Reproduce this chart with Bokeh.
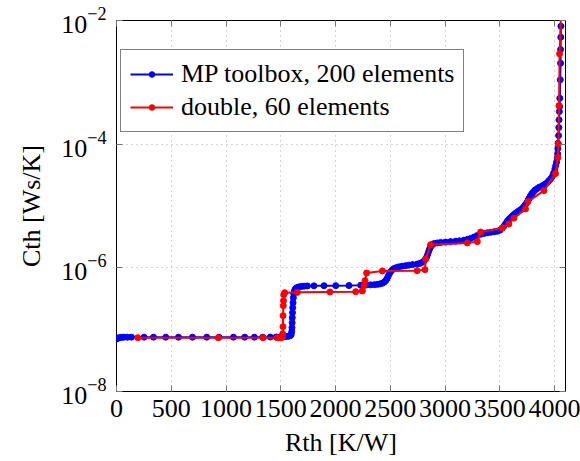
from bokeh.plotting import figure
from bokeh.models import (Range1d, FixedTicker, Legend, LegendItem, LinearAxis, LogAxis,
                          CustomJSTickFormatter)
from bokeh.embed import file_html
from bokeh.resources import INLINE

FONT = "'Liberation Serif', 'Times New Roman', serif"
FS = "26px"

# Tick positions
x_ticks = [0, 500, 1000, 1500, 2000, 2500, 3000, 3500, 4000]
y_ticks = [1e-8, 1e-6, 1e-4, 1e-2]

# MP toolbox, 200 elements (Rth [K/W], Cth [Ws/K])
mp_rth = [0, 12, 26, 46, 67, 100, 137, 252, 338, 450, 566, 694, 824, 936, 1068, 1171, 1259,
          1335, 1404, 1458, 1500, 1531, 1554, 1572, 1586, 1595, 1600, 1602, 1604, 1605, 1607,
          1609, 1612, 1615, 1618, 1625, 1634, 1646, 1664, 1687, 1712, 1743, 1803, 1895, 2002,
          2123, 2230, 2284, 2321, 2357, 2385, 2408, 2428, 2444, 2458, 2470, 2481, 2492, 2503,
          2517, 2534, 2554, 2579, 2610, 2640, 2670, 2704, 2747, 2773, 2793, 2809, 2823, 2834,
          2844, 2853, 2862, 2873, 2884, 2899, 2930, 2960, 3005, 3051, 3097, 3133, 3172, 3206,
          3234, 3264, 3293, 3325, 3357, 3386, 3416, 3446, 3477, 3503, 3523, 3538, 3553, 3569,
          3585, 3599, 3614, 3629, 3644, 3660, 3674, 3690, 3705, 3717, 3731, 3745, 3757, 3766,
          3777, 3788, 3797, 3809, 3822, 3842, 3863, 3888, 3904, 3918, 3934, 3948, 3964, 3979,
          3991, 4003, 4011, 4018, 4024, 4028, 4030, 4032, 4037, 4039, 4041, 4044, 4046, 4048,
          4052, 4055, 4055, 4057, 4058]
mp_cth = [7.07e-8, 7.29e-8, 7.42e-8, 7.51e-8, 7.56e-8, 7.56e-8, 7.56e-8, 7.56e-8, 7.56e-8,
          7.56e-8, 7.56e-8, 7.56e-8, 7.56e-8, 7.56e-8, 7.56e-8, 7.56e-8, 7.56e-8, 7.56e-8,
          7.59e-8, 7.62e-8, 7.65e-8, 7.70e-8, 7.76e-8, 7.85e-8, 8.00e-8, 8.30e-8, 9.28e-8,
          1.077e-7, 1.298e-7, 1.564e-7, 1.884e-7, 2.27e-7, 2.735e-7, 3.295e-7, 3.824e-7,
          4.277e-7, 4.607e-7, 4.783e-7, 4.909e-7, 5.00e-7, 5.057e-7, 5.095e-7, 5.114e-7,
          5.133e-7, 5.152e-7, 5.171e-7, 5.23e-7, 5.288e-7, 5.308e-7, 5.35e-7, 5.41e-7, 5.51e-7,
          5.655e-7, 5.87e-7, 6.21e-7, 6.69e-7, 7.34e-7, 8.06e-7, 8.68e-7, 9.25e-7, 9.71e-7,
          1.007e-6, 1.038e-6, 1.065e-6, 1.085e-6, 1.106e-6, 1.127e-6, 1.152e-6, 1.182e-6,
          1.227e-6, 1.293e-6, 1.393e-6, 1.518e-6, 1.697e-6, 1.898e-6, 2.084e-6, 2.244e-6,
          2.373e-6, 2.464e-6, 2.529e-6, 2.576e-6, 2.615e-6, 2.654e-6, 2.694e-6, 2.735e-6,
          2.797e-6, 2.893e-6, 2.991e-6, 3.139e-6, 3.319e-6, 3.484e-6, 3.602e-6, 3.684e-6,
          3.753e-6, 3.824e-6, 3.896e-6, 4.074e-6, 4.389e-6, 4.73e-6, 5.19e-6, 5.70e-6,
          6.14e-6, 6.49e-6, 6.87e-6, 7.26e-6, 7.62e-6, 7.97e-6, 8.33e-6, 8.68e-6, 9.08e-6,
          9.60e-6, 1.034e-5, 1.122e-5, 1.223e-5, 1.317e-5, 1.419e-5, 1.529e-5, 1.605e-5,
          1.71e-5, 1.808e-5, 1.912e-5, 2.022e-5, 2.114e-5, 2.194e-5, 2.278e-5, 2.391e-5,
          2.557e-5, 2.745e-5, 2.991e-5, 3.407e-5, 3.983e-5, 4.505e-5, 5.095e-5, 5.96e-5,
          6.97e-5, 8.49e-5, 1.034e-4, 1.378e-4, 1.856e-4, 2.474e-4, 3.37e-4, 4.06e-4,
          5.53e-4, 1.098e-3, 2.038e-3, 3.394e-3, 5.37e-3, 8.09e-3]

# double, 60 elements
dbl_rth = [194, 929, 1340, 1469, 1500, 1515, 1518, 1520, 1521, 1523, 1525, 1527, 1536, 1652,
           1949, 2184, 2245, 2260, 2269, 2284, 2428, 2745, 2817, 2823, 2868, 3203, 3295, 3325,
           3523, 3583, 3629, 3735, 3757, 3903, 4009, 4030, 4035, 4041, 4046, 4060]
dbl_cth = [7.42e-8, 7.42e-8, 7.42e-8, 7.42e-8, 7.42e-8, 7.56e-8, 8.62e-8, 1.118e-7, 1.684e-7,
           2.445e-7, 2.946e-7, 3.684e-7, 3.968e-7, 4.013e-7, 4.074e-7, 4.12e-7, 4.23e-7,
           5.15e-7, 6.21e-7, 8.27e-7, 8.91e-7, 9.01e-7, 9.35e-7, 1.393e-6, 2.373e-6, 2.529e-6,
           2.654e-6, 3.782e-6, 4.42e-6, 5.13e-6, 6.37e-6, 8.98e-6, 1.178e-5, 1.775e-5,
           3.344e-5, 6.07e-5, 1.011e-4, 4.21e-4, 2.89e-3, 1.45e-2]

p = figure(width=580, height=461, x_range=Range1d(0, 4100), y_range=Range1d(1e-8, 1e-2),
           y_axis_type="log", output_backend="svg", toolbar_location=None,
           min_border_left=116, min_border_right=15, min_border_top=20, min_border_bottom=70)
p.background_fill_color = "white"
p.border_fill_color = "white"
p.outline_line_color = "black"
p.outline_line_width = 1

xa = p.xaxis[0]
ya = p.yaxis[0]
xa.ticker = FixedTicker(ticks=x_ticks, minor_ticks=[])
ya.ticker = FixedTicker(ticks=y_ticks, minor_ticks=[])
for ax in (xa, ya):
    ax.major_label_text_font = FONT
    ax.major_label_text_font_size = FS
    ax.major_label_text_color = "black"
    ax.axis_label_text_font = FONT
    ax.axis_label_text_font_size = FS
    ax.axis_label_text_font_style = "normal"
    ax.axis_label_text_color = "black"
    ax.axis_line_color = None
    ax.major_tick_in = 6
    ax.major_tick_out = 0
    ax.major_tick_line_color = "#777777"
    ax.minor_tick_line_color = None
xa.axis_label = "Rth [K/W]"
ya.axis_label = "Cth [Ws/K]"
xa.major_label_standoff = 8
ya.major_label_standoff = 10
xa.axis_label_standoff = 8
ya.axis_label_standoff = 12

for g, t in ((p.xgrid[0], x_ticks), (p.ygrid[0], y_ticks)):
    g.ticker = FixedTicker(ticks=t, minor_ticks=[])
    g.grid_line_color = "#aaaaaa"
    g.grid_line_dash = "1 4"
    g.grid_line_width = 1

blank = CustomJSTickFormatter(code="return ''")
top = LinearAxis(ticker=FixedTicker(ticks=x_ticks, minor_ticks=[]), formatter=blank,
                 major_tick_in=6, major_tick_out=0, major_label_standoff=0,
                 axis_line_color=None, major_tick_line_color="#777777",
                 minor_tick_line_color=None, major_label_text_font_size="1px")
right = LogAxis(ticker=FixedTicker(ticks=y_ticks, minor_ticks=[]), formatter=blank,
                major_tick_in=6, major_tick_out=0, major_label_standoff=0,
                axis_line_color=None, major_tick_line_color="#777777",
                minor_tick_line_color=None, major_label_text_font_size="1px")
p.add_layout(top, "above")
p.add_layout(right, "right")

bl = p.line(mp_rth, mp_cth, line_color="blue", line_width=2)
bs = p.scatter(mp_rth, mp_cth, size=6, fill_color="blue", line_color="blue")
rl = p.line(dbl_rth, dbl_cth, line_color="red", line_width=2)
rs = p.scatter(dbl_rth, dbl_cth, size=6, fill_color="red", line_color="red")

legend = Legend(items=[LegendItem(label="MP toolbox, 200 elements", renderers=[bl, bs]),
                       LegendItem(label="double, 60 elements", renderers=[rl, rs])],
                location=(4, 259), label_text_font=FONT, label_text_font_size=FS,
                label_text_color="black", glyph_width=43, glyph_height=14, label_height=30,
                label_standoff=8, padding=9, spacing=3, margin=0,
                border_line_color="black", border_line_width=1, background_fill_color="white",
                background_fill_alpha=1)
p.add_layout(legend)

open("out.html", "w").write(file_html(p, INLINE))
